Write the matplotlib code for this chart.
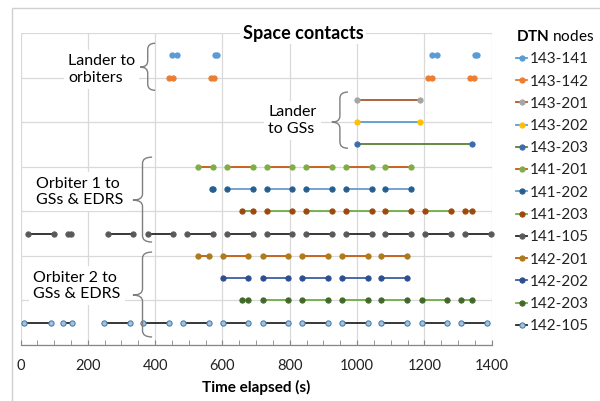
import matplotlib
matplotlib.use("Agg")
import matplotlib.pyplot as plt
import numpy as np
from matplotlib.path import Path
from matplotlib.patches import PathPatch, Rectangle
from matplotlib.ticker import MultipleLocator

plt.rcParams['font.family'] = ['Lato', 'DejaVu Sans']
plt.rcParams['mathtext.fontset'] = 'custom'
plt.rcParams['mathtext.rm'] = 'Lato'
plt.rcParams['mathtext.bf'] = 'Lato:bold'

# ---- data: contact windows (start, end) in seconds ----
series_names = ["143-141", "143-142", "143-201", "143-202", "143-203",
                "141-201", "141-202", "141-203", "141-105",
                "142-201", "142-202", "142-203", "142-105"]

c_143_141 = [(449, 464), (579, 583), (1222, 1237), (1349, 1356)]
c_143_142 = [(441, 454), (566, 575), (1211, 1224), (1336, 1346)]
c_143_201 = [(1000, 1187)]
c_143_202 = [(1000, 1187)]
c_143_203 = [(1000, 1342)]
c_141_201 = [(526, 573), (613, 690), (731, 807), (848, 926), (966, 1044), (1084, 1161)]
c_141_202 = [(570, 572), (613, 690), (731, 807), (848, 926), (966, 1044), (1084, 1161)]
c_141_203 = [(659, 690), (731, 807), (848, 926), (966, 1044), (1084, 1161), (1202, 1280), (1320, 1342)]
c_141_105 = [(23, 100), (140, 150), (259, 335), (378, 453), (496, 573), (613, 690), (731, 807),
             (848, 926), (966, 1044), (1084, 1161), (1202, 1280), (1321, 1398)]
c_142_201 = [(526, 560), (601, 677), (720, 796), (837, 913), (954, 1033), (1072, 1149)]
c_142_202 = [(601, 677), (720, 796), (837, 913), (954, 1033), (1072, 1149)]
c_142_203 = [(659, 677), (720, 796), (837, 913), (954, 1033), (1072, 1149), (1192, 1267), (1308, 1341)]
c_142_105 = [(10, 90), (127, 152), (248, 325), (365, 442), (482, 560), (601, 677), (720, 796),
             (837, 913), (954, 1033), (1072, 1149), (1192, 1267), (1308, 1387)]

contacts = [c_143_141, c_143_142, c_143_201, c_143_202, c_143_203,
            c_141_201, c_141_202, c_141_203, c_141_105,
            c_142_201, c_142_202, c_142_203, c_142_105]
row_values = list(range(13, 0, -1))

line_colors = ['#5B9BD5', '#ED7D31', '#A9582C', '#5B9BD5', '#548235',
               '#C55A11', '#6A9AD0', '#70AD47', '#262626',
               '#C55A11', '#3A5FA0', '#70AD47', '#262626']
marker_faces = ['#5B9BD5', '#ED7D31', '#A5A5A5', '#FFC000', '#3E6BB0',
                '#7FAE48', '#255E91', '#9E480E', '#595959',
                '#AD7A1B', '#2E4F8F', '#43682B', '#9DC3E6']
marker_edges = ['#5B9BD5', '#ED7D31', '#A5A5A5', '#FFC000', '#3E6BB0',
                '#7FAE48', '#255E91', '#9E480E', '#595959',
                '#AD7A1B', '#2E4F8F', '#43682B', '#41719C']

fig = plt.figure(figsize=(6.0, 4.01), dpi=100)
W, H = 600, 401
ax = fig.add_axes([20.5 / W, 56 / H, 471.2 / W, 312 / H])

for name, segs, yv, lc, mf, me in zip(series_names, contacts, row_values,
                                       line_colors, marker_faces, marker_edges):
    xs, ys = [], []
    for s, e in segs:
        xs += [s, e, np.nan]
        ys += [yv, yv, np.nan]
    ax.plot(xs, ys, color=lc, lw=1.3, marker='o', ms=3.8,
            mfc=mf, mec=me, mew=0.7, label=name, clip_on=False, zorder=3)

ax.set_xlim(0, 1400)
ax.set_ylim(0, 14)
ax.xaxis.set_major_locator(MultipleLocator(200))
ax.xaxis.set_minor_locator(MultipleLocator(50))
ax.yaxis.set_major_locator(MultipleLocator(2))
ax.grid(True, which='major', color='#D9D9D9', lw=0.9)
ax.set_axisbelow(True)
for sp in ['left', 'right', 'top']:
    ax.spines[sp].set_visible(False)
ax.spines['bottom'].set_color('#868686')
ax.spines['bottom'].set_linewidth(0.9)
ax.tick_params(axis='x', which='both', direction='in', length=3.5, color='#868686',
               labelsize=10.5, pad=10, labelcolor='#222222')
ax.tick_params(axis='y', which='both', left=False, labelleft=False)
ax.set_xlabel('Time elapsed (s)', fontsize=11, fontweight='bold', labelpad=5)

# title
fig.text(303 / W, 1 - 33 / H, 'Space contacts', ha='center', va='center',
         fontsize=13, fontweight='bold',
         bbox=dict(facecolor='white', edgecolor='none', pad=2))

# braces
def brace(ax, x_right, y_top, y_bot, y_tip, w, h=0.28):
    xm = x_right - w / 2
    xt = x_right - w
    verts = [(x_right, y_top), (xm, y_top), (xm, y_top - h),
             (xm, y_tip + h), (xm, y_tip), (xt, y_tip),
             (xm, y_tip), (xm, y_tip - h),
             (xm, y_bot + h), (xm, y_bot), (x_right, y_bot)]
    codes = [Path.MOVETO, Path.CURVE3, Path.CURVE3,
             Path.LINETO, Path.CURVE3, Path.CURVE3,
             Path.CURVE3, Path.CURVE3,
             Path.LINETO, Path.CURVE3, Path.CURVE3]
    ax.add_patch(PathPatch(Path(verts, codes), fill=False, edgecolor='#7F7F7F',
                           lw=1.0, clip_on=False, zorder=4))

brace(ax, 400, 13.54, 11.43, 12.47, 44)
brace(ax, 973, 11.35, 8.83, 10.0, 48)
brace(ax, 391, 8.43, 4.62, 6.5, 57)
brace(ax, 391, 4.17, 0.36, 2.24, 57)

box = dict(facecolor='white', edgecolor='none', pad=3)
ax.text(141, 12.35, 'Lander to\norbiters', ha='left', va='center', fontsize=11.5,
        linespacing=1.25, bbox=box, zorder=2.5)
ax.text(736, 10.09, 'Lander\nto GSs', ha='left', va='center', fontsize=11.5,
        linespacing=1.25, bbox=box, zorder=2.5)
ax.text(45, 6.87, 'Orbiter 1 to\nGSs & EDRS', ha='left', va='center', fontsize=11.5,
        linespacing=1.25, bbox=box, zorder=2.5)
ax.text(38, 2.65, 'Orbiter 2 to\nGSs & EDRS', ha='left', va='center', fontsize=11.5,
        linespacing=1.25, bbox=box, zorder=2.5)

leg = ax.legend(loc='upper left', bbox_to_anchor=(516 / W, 1 - 29 / H),
                bbox_transform=fig.transFigure, frameon=False, fontsize=11,
                title=r'$\mathbf{DTN}$ nodes', title_fontsize=11,
                handlelength=0.75, handletextpad=0.15, labelspacing=0.54,
                borderpad=0, borderaxespad=0, alignment='left')
for t in leg.get_texts():
    t.set_color('#222222')

# outer chart border
fig.patches.append(Rectangle((11.5 / W, -0.1), 1.2, 1.1 - 8 / H, transform=fig.transFigure,
                             fill=False, edgecolor='#D0D0D0', lw=1.0))

fig.savefig('out.png', dpi=100)
